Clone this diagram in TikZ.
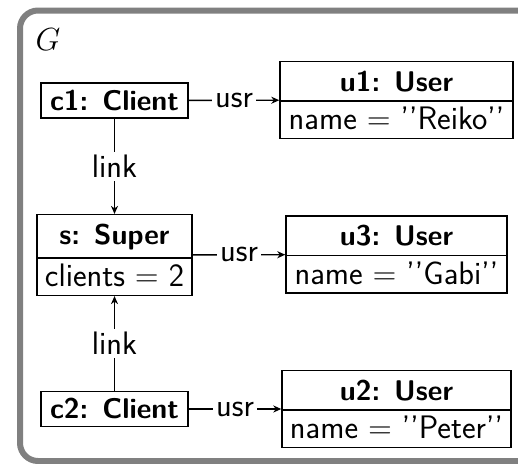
\RequirePackage{fix-cm}
\documentclass[tikz,border=0pt]{standalone}
\usepackage{fontspec}
\usetikzlibrary{shapes.multipart,arrows.meta}
\newcommand{\bt}[1]{{\fontsize{28.5}{34}\selectfont\bfseries #1}}
\newcommand{\tstrut}{\rule[-9pt]{0pt}{38pt}}
\newcommand{\bstrut}{\rule[-8pt]{0pt}{36pt}}
\begin{document}
\begin{tikzpicture}[x=1pt,y=-1pt,
  every node/.style={font=\fontsize{32.5}{38}\selectfont\sffamily},
  obj/.style={draw,line width=1.4pt,inner xsep=4pt,inner ysep=0pt},
  cls/.style={obj,rectangle split,rectangle split parts=2},
  conn/.style={line width=1.4pt,-{Stealth[length=8pt,width=7pt,inset=2.5pt]}},
  lab/.style={fill=white,inner sep=3pt}]
\useasboundingbox (0,0) rectangle (518,463);
\clip (0,0) rectangle (518,463);
\draw[line width=6pt,color=black!50,rounded corners=18pt] (20,10.5) rectangle (545,461);
\node[font=\fontsize{32}{38}\selectfont] (G) at (48,40) {$G$};
\node[obj,minimum width=147pt] (c1) at (114.5,100.5) {\rule[-8pt]{0pt}{35pt}\bt{c1: Client}};
\node[cls,minimum width=233pt] (u1) at (396.5,100) {\tstrut\bt{u1: User}\nodepart{two}\bstrut name $=$ '{}'Reiko'{}'};
\node[cls,minimum width=155pt] (s) at (114.5,255) {\rule[-13pt]{0pt}{42pt}\bt{s: Super}\nodepart{two}\bstrut clients $=$ 2};
\node[cls,minimum width=221pt] (u3) at (396.5,254.5) {\tstrut\bt{u3: User}\nodepart{two}\bstrut name $=$ '{}'Gabi'{}'};
\node[obj,minimum width=147pt] (c2) at (114.5,409) {\rule[-8pt]{0pt}{35pt}\bt{c2: Client}};
\node[cls,minimum width=229pt] (u2) at (396.5,409) {\tstrut\bt{u2: User}\nodepart{two}\bstrut name $=$ '{}'Peter'{}'};
\draw[conn] (c1) -- node[lab] (l1) {usr} (u1);
\draw[conn] (s) -- node[lab] (l2) {usr} (u3);
\draw[conn] (c2) -- node[lab] (l3) {usr} (u2);
\draw[conn] (c1) -- node[lab] (l4) {link} (s);
\draw[conn] (c2) -- node[lab] (l5) {link} (s);
\end{tikzpicture}
\end{document}
